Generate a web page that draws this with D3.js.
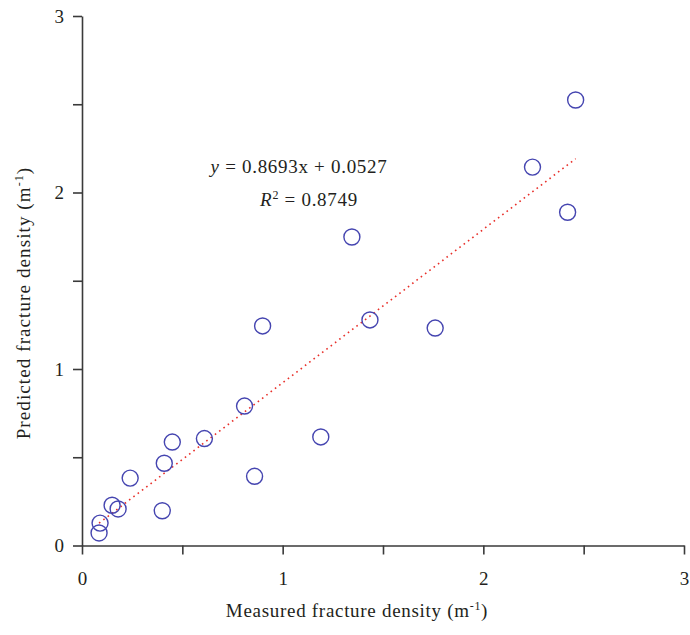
<!DOCTYPE html>
<html>
<head>
<meta charset="utf-8">
<script src="https://cdn.jsdelivr.net/npm/d3@7"></script>
<style>
  body { margin: 0; background: #fff; }
  text { font-family: "Liberation Serif", "DejaVu Serif", serif; fill: #231f20; }
  .lbl { font-size: 19px; letter-spacing: 0.7px; }
</style>
</head>
<body>
<div id="chart"></div>
<script>
// measured vs predicted fracture density (m^-1)
const measured  = [0.085, 0.09, 0.15, 0.18, 0.24, 0.40, 0.41, 0.45, 0.61, 0.81, 0.86, 0.90, 1.19, 1.345, 1.435, 1.76, 2.245, 2.42, 2.46];
const predicted = [0.071, 0.127, 0.228, 0.207, 0.382, 0.197, 0.466, 0.586, 0.606, 0.79, 0.392, 1.244, 0.615, 1.748, 1.278, 1.232, 2.144, 1.888, 2.524];
const slope = 0.8693, intercept = 0.0527;
const xTicks = [0, 0.5, 1, 1.5, 2, 2.5, 3];
const yTicks = [0, 0.5, 1, 1.5, 2, 2.5, 3];

const W = 690, H = 635;
const svg = d3.select('#chart').append('svg')
  .attr('width', W).attr('height', H);

const x = d3.scaleLinear().domain([0, 3]).range([82, 684]);
const y = d3.scaleLinear().domain([0, 3]).range([545.5, 16]);

// axes
const xAxis = d3.axisBottom(x).tickValues(xTicks).tickSize(9).tickSizeOuter(0)
  .tickFormat(d => Number.isInteger(d) ? d : '');
const yAxis = d3.axisLeft(y).tickValues(yTicks).tickSize(9).tickSizeOuter(0)
  .tickFormat(d => Number.isInteger(d) ? d : '');

const gx = svg.append('g').attr('transform', `translate(0,${y(0)})`).call(xAxis);
const gy = svg.append('g').attr('transform', `translate(${x(0)},0)`).call(yAxis);

[gx, gy].forEach(g => {
  g.select('.domain').attr('stroke', '#3a3a3a').attr('stroke-width', 1.6);
  g.selectAll('.tick line').attr('stroke', '#3a3a3a').attr('stroke-width', 1.6);
  g.selectAll('.tick text')
    .style('font-family', '"Liberation Serif", serif')
    .style('font-size', '19px').attr('fill', '#231f20');
});
gx.selectAll('.tick text').attr('dy', '0.71em').attr('y', 26);
gy.selectAll('.tick text').attr('x', -18);

// trend line
const xMin = d3.min(measured), xMax = d3.max(measured);
svg.append('line')
  .attr('x1', x(xMin)).attr('y1', y(slope * xMin + intercept))
  .attr('x2', x(xMax)).attr('y2', y(slope * xMax + intercept))
  .attr('stroke', '#e8302a').attr('stroke-width', 1.6)
  .attr('stroke-dasharray', '1.6,3.8');

// points
svg.append('g').selectAll('circle')
  .data(measured.map((m, i) => [m, predicted[i]]))
  .join('circle')
  .attr('cx', d => x(d[0])).attr('cy', d => y(d[1]))
  .attr('r', 8)
  .attr('fill', 'none').attr('stroke', '#4545b0').attr('stroke-width', 1.4);

// equation
const eq = svg.append('text').attr('class', 'lbl').attr('x', 299).attr('y', 173)
  .attr('text-anchor', 'middle');
eq.append('tspan').attr('font-style', 'italic').text('y');
eq.append('tspan').text(' = 0.8693x + 0.0527');

const r2 = svg.append('text').attr('class', 'lbl').attr('x', 309).attr('y', 206)
  .attr('text-anchor', 'middle');
r2.append('tspan').attr('font-style', 'italic').text('R');
r2.append('tspan').attr('dy', -7).style('font-size', '12px').text('2');
r2.append('tspan').attr('dy', 7).text(' = 0.8749');

// axis titles
const xl = svg.append('text').attr('class', 'lbl').attr('x', 357).attr('y', 617)
  .attr('text-anchor', 'middle');
xl.append('tspan').text('Measured fracture density (m');
xl.append('tspan').attr('dy', -7).style('font-size', '12px').text('-1');
xl.append('tspan').attr('dy', 7).text(')');

const yl = svg.append('text').attr('class', 'lbl')
  .attr('transform', 'translate(30,303) rotate(-90)')
  .attr('text-anchor', 'middle')
  .style('letter-spacing', '1.1px');
yl.append('tspan').text('Predicted fracture density (m');
yl.append('tspan').attr('dy', -7).style('font-size', '12px').text('-1');
yl.append('tspan').attr('dy', 7).text(')');
</script>
</body>
</html>
